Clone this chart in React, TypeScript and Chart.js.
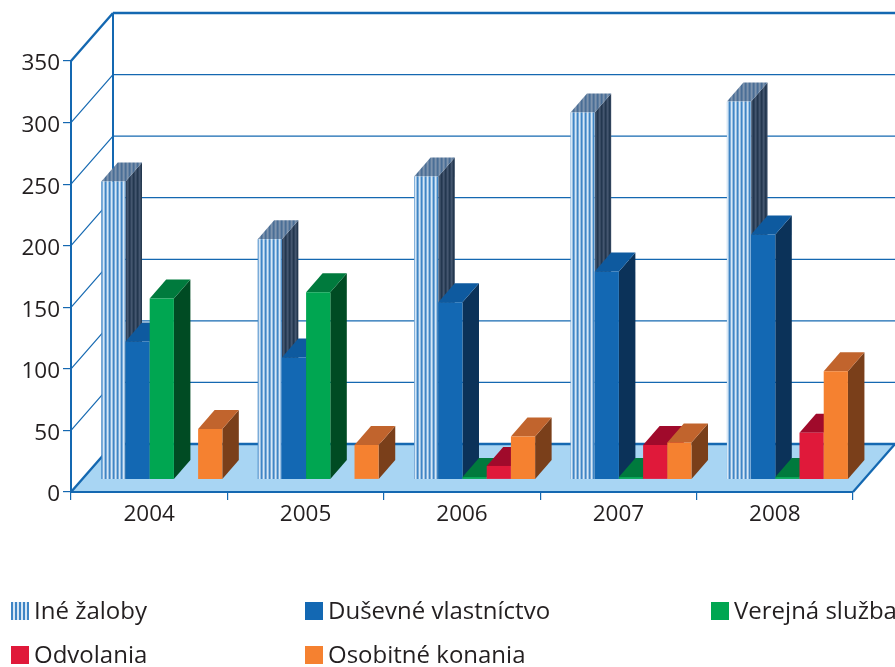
import React, { useEffect, useRef } from "react";
import { Chart, registerables } from "chart.js";

Chart.register(...registerables);

const years = ["2004", "2005", "2006", "2007", "2008"];
const ineZaloby = [242, 195, 246, 298, 307];
const dusevneVlastnictvo = [112, 99, 144, 169, 199];
const verejnaSluzba = [147, 152, 2, 2, 2];
const odvolania = [0, 0, 11, 28, 38];
const osobitneKonania = [41, 28, 35, 30, 88];
const seriesNames = ["Iné žaloby", "Duševné vlastníctvo", "Verejná služba", "Odvolania", "Osobitné konania"];

const TEXT = "#231F20";
const LINE = "#1468B1";
const FLOOR = "#A8D5F3";
const FONT = "'Open Sans', sans-serif";
const WALL_DX = 42;
const WALL_DY = -48;
const BAR_DX = 12.6;
const BAR_DY = -12.5;
const DEPTH_DX = 16.5;
const DEPTH_DY = -19;
const Y_LABEL_SHIFT = 3;

const stripes = (a: string, b: string) => {
  const c = document.createElement("canvas");
  c.width = 4;
  c.height = 1;
  const g = c.getContext("2d")!;
  g.fillStyle = a;
  g.fillRect(0, 0, 2, 1);
  g.fillStyle = b;
  g.fillRect(2, 0, 2, 1);
  return g.createPattern(c, "repeat")!;
};

const makeThreeD = (sides: any[], tops: any[]) => ({
  id: "threeD",
  beforeDraw(chart: any) {
    chart.scales.y.getLabelItems().forEach((it: any) => {
      if (!it.shifted) {
        it.options.translation[1] += Y_LABEL_SHIFT;
        it.shifted = true;
      }
    });
  },
  beforeDatasetsDraw(chart: any) {
    const { ctx, scales } = chart;
    const x0 = scales.x.left;
    const x1 = scales.x.right;
    const yS = scales.y;
    const y0 = yS.getPixelForValue(0);
    const yT = yS.getPixelForValue(350);
    ctx.save();
    ctx.fillStyle = FLOOR;
    ctx.beginPath();
    ctx.moveTo(x0, y0);
    ctx.lineTo(x1, y0);
    ctx.lineTo(x1 + WALL_DX, y0 + WALL_DY);
    ctx.lineTo(x0 + WALL_DX, y0 + WALL_DY);
    ctx.closePath();
    ctx.fill();
    ctx.strokeStyle = LINE;
    const seg = (a: number, b: number, c: number, d: number, w: number) => {
      ctx.lineWidth = w;
      ctx.beginPath();
      ctx.moveTo(a, b);
      ctx.lineTo(c, d);
      ctx.stroke();
    };
    yS.ticks.forEach((t: any) => {
      const y = yS.getPixelForValue(t.value);
      const edge = t.value === 0 || t.value === 350;
      seg(x0, y, x0 + WALL_DX, y + WALL_DY, edge ? 2.4 : 1.2);
      seg(x0 + WALL_DX, y + WALL_DY, x1 + WALL_DX, y + WALL_DY, edge ? 2.6 : 1.3);
    });
    seg(x0, y0, x0, yT, 2);
    seg(x0 + WALL_DX, y0 + WALL_DY, x0 + WALL_DX, yT + WALL_DY, 2);
    seg(x0, y0, x1, y0, 2.2);
    seg(x1, y0, x1 + WALL_DX, y0 + WALL_DY, 2.2);

    ctx.translate(BAR_DX, BAR_DY);
    years.forEach((_, i) => {
      chart.data.datasets.forEach((__: any, d: number) => {
        const el = chart.getDatasetMeta(d).data[i];
        const p = el.getProps(["x", "y", "base", "width"], true);
        if (Math.abs(p.base - p.y) < 0.5) return;
        const l = p.x - p.width / 2;
        const r = p.x + p.width / 2;
        ctx.fillStyle = sides[d];
        ctx.beginPath();
        ctx.moveTo(r, p.base);
        ctx.lineTo(r + DEPTH_DX, p.base + DEPTH_DY);
        ctx.lineTo(r + DEPTH_DX, p.y + DEPTH_DY);
        ctx.lineTo(r, p.y);
        ctx.closePath();
        ctx.fill();
        ctx.fillStyle = tops[d];
        ctx.beginPath();
        ctx.moveTo(l, p.y);
        ctx.lineTo(l + DEPTH_DX, p.y + DEPTH_DY);
        ctx.lineTo(r + DEPTH_DX, p.y + DEPTH_DY);
        ctx.lineTo(r, p.y);
        ctx.closePath();
        ctx.fill();
        el.draw(ctx);
      });
    });
    ctx.restore();
    return false;
  },
});

const legendSwatches = [
  "repeating-linear-gradient(90deg,#3F85C5 0 2px,#D6E7F6 2px 4px)",
  "#1368B3",
  "#00A651",
  "#E0193A",
  "#F58130",
];
const legendPositions = [
  [11, 602],
  [305, 602],
  [711, 602],
  [11, 646],
  [305, 646],
];

export default function App() {
  const ref = useRef<HTMLCanvasElement>(null);
  useEffect(() => {
    const fronts: any[] = [stripes("#3F85C5", "#D6E7F6"), "#1368B3", "#00A651", "#E0193A", "#F58130"];
    const sides = [stripes("#23374F", "#44566F"), "#0B3259", "#004B23", "#A00A2B", "#7A3F1A"];
    const tops = [stripes("#4A6E96", "#7D93AD"), "#0E5A9F", "#007A3D", "#A00A2B", "#C1642D"];
    const values = [ineZaloby, dusevneVlastnictvo, verejnaSluzba, odvolania, osobitneKonania];
    const chart: any = new Chart(ref.current!, {
      type: "bar",
      data: {
        labels: years,
        datasets: values.map((v, i) => ({
          label: seriesNames[i],
          data: v,
          backgroundColor: fronts[i],
          borderWidth: 0,
          barPercentage: 1,
          categoryPercentage: 0.774,
        })),
      },
      options: {
        responsive: false,
        animation: false,
        layout: { padding: { left: 0, top: 61, right: 42, bottom: 0 } },
        plugins: { legend: { display: false }, tooltip: { enabled: false } },
        scales: {
          x: {
            afterFit: (s: any) => { s.height = 175; },
            border: { display: false },
            grid: { drawOnChartArea: false, color: LINE, tickLength: 8, lineWidth: 1.2, offset: true },
            ticks: { color: TEXT, font: { family: FONT, size: 22.5 }, padding: 1, maxRotation: 0 },
          },
          y: {
            min: 0,
            max: 350,
            afterFit: (s: any) => { s.width = 71; },
            border: { display: false },
            grid: { drawOnChartArea: false, color: LINE, tickLength: 8, lineWidth: 1.2 },
            ticks: { stepSize: 50, color: TEXT, font: { family: FONT, size: 22.5 }, padding: 3 },
          },
        },
      },
      plugins: [makeThreeD(sides, tops)],
    } as any);
    return () => chart.destroy();
  }, []);
  return (
    <div style={{ position: "absolute", left: 0, top: 0, width: 895, height: 667, overflow: "hidden", background: "#fff" }}>
      <canvas ref={ref} width={895} height={667} style={{ display: "block" }} />
      {seriesNames.map((name, i) => (
        <div
          key={name}
          style={{
            position: "absolute",
            left: legendPositions[i][0],
            top: legendPositions[i][1],
            height: 18,
            display: "flex",
            alignItems: "center",
            whiteSpace: "nowrap",
            fontFamily: FONT,
            fontSize: 24,
            color: TEXT,
          }}
        >
          <span style={{ width: 18, height: 18, background: legendSwatches[i], marginRight: 5, flex: "none" }} />
          <span style={{ position: "relative", top: -1.5 }}>{name}</span>
        </div>
      ))}
    </div>
  );
}
